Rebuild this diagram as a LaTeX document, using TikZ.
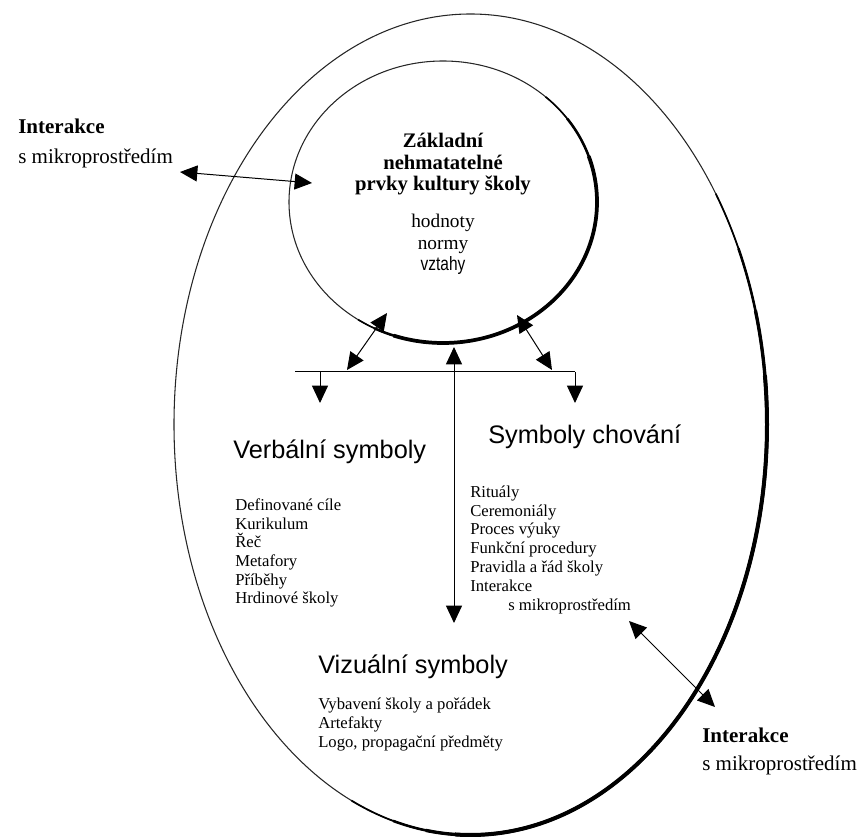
\documentclass[tikz,border=0pt]{standalone}
\usepackage{fontspec}
\setmainfont{Liberation Serif}
\setsansfont{Liberation Sans}
\newfontfamily\narrowsans[FakeStretch=0.8]{Liberation Sans}
\usepackage{tikz}
\usetikzlibrary{shapes, arrows.meta, positioning}

\begin{document}
\begin{tikzpicture}
  [
    x=0.75pt, y=-0.75pt,
    >={Triangle[length=13pt, width=12pt]},
    Ring/.style={ellipse, draw=black!85, line width=0.8pt, inner sep=0pt},
    Shade/.style={draw=black},
    Link/.style={draw, line width=0.75pt},
    Title/.style={font=\sffamily\fontsize{19}{22}\selectfont, inner sep=0pt, anchor=west},
    Items/.style={font=\fontsize{12.5}{14}\selectfont, align=left, inner sep=0pt, anchor=north west},
    Head/.style={font=\bfseries\fontsize{15.5}{16.1}\selectfont, align=center, inner sep=0pt, anchor=north},
    Side/.style={font=\fontsize{15.75}{22.5}\selectfont, align=left, inner sep=0pt, anchor=north west}
  ]
  \useasboundingbox (0,0) rectangle (858,837);
  % Rings
  \node[Ring, minimum width=444.75pt, minimum height=615.75pt] (culture) at (470.5,424.5) {};
  \node[Ring, minimum width=231pt, minimum height=211.5pt] (core) at (443,202) {};
  % heavier lower right edges
  \begin{scope}
    \clip (culture.center) -- (858,60) -- (858,837) -- (340,837) -- cycle;
    \path [Shade, line width=1.3pt] (culture.center) ellipse [x radius=296.5, y radius=410.5];
  \end{scope}
  \begin{scope}
    \clip (culture.center) -- (858,170) -- (858,837) -- (390,837) -- cycle;
    \path [Shade, line width=1.9pt] (culture.center) ellipse [x radius=296.5, y radius=410.5];
  \end{scope}
  \begin{scope}
    \clip (culture.center) -- (858,270) -- (858,837) -- (425,837) -- cycle;
    \path [Shade, line width=2.5pt] (culture.center) ellipse [x radius=296.5, y radius=410.5];
  \end{scope}
  \begin{scope}
    \clip (culture.center) -- (858,360) -- (858,837) -- (455,837) -- cycle;
    \path [Shade, line width=3pt] (culture.center) ellipse [x radius=296.5, y radius=410.5];
  \end{scope}
  \begin{scope}
    \clip (core.center) -- (640,0) -- (640,400) -- (300,400) -- cycle;
    \path [Shade, line width=1.2pt] (core.center) ellipse [x radius=154, y radius=141];
  \end{scope}
  \begin{scope}
    \clip (core.center) -- (640,70) -- (640,400) -- (335,400) -- cycle;
    \path [Shade, line width=1.9pt] (core.center) ellipse [x radius=154, y radius=141];
  \end{scope}
  \begin{scope}
    \clip (core.center) -- (640,140) -- (640,400) -- (370,400) -- cycle;
    \path [Shade, line width=2.8pt] (core.center) ellipse [x radius=154, y radius=141];
  \end{scope}
  % Nodes
  \node[Head] (coreHead) at (443,133) {Základní\\ nehmatatelné\\ prvky kultury školy};
  \node[Head, font=\fontsize{14.5}{16.1}\selectfont] (coreItems) at (443,214) {hodnoty\\ normy\\ {\narrowsans vztahy}};
  \node[Side] (intLeft) at (18,119) {\textbf{Interakce}\\ s mikroprostředím};
  \node[Side, font=\fontsize{15.75}{21}\selectfont] (intRight) at (702,728) {\textbf{Interakce}\\ s mikroprostředím};
  \node[Title] (verbal) at (233,452) {Verbální symboly};
  \node[Items] (verbalItems) at (235,498.5) {Definované cíle\\ Kurikulum\\ Řeč\\ Metafory\\ Příběhy\\ Hrdinové školy};
  \node[Title] (behave) at (488,437) {Symboly chování};
  \node[Items, font=\fontsize{12.5}{14.1}\selectfont] (behaveItems) at (470,485.5) {Rituály\\ Ceremoniály\\ Proces výuky\\ Funkční procedury\\ Pravidla a řád školy\\ Interakce\\ \hspace*{28.5pt}s mikroprostředím};
  \node[Title] (visual) at (318,667) {Vizuální symboly};
  \node[Items, font=\fontsize{12.5}{14.25}\selectfont] (visualItems) at (318,697.5) {Vybavení školy a pořádek\\ Artefakty\\ Logo, propagační předměty};
  % Ends
  \coordinate (intL) at (180,172);
  \coordinate (coreW) at (312,183);
  \coordinate (coreSW) at (387,313);
  \coordinate (barSW) at (347,370);
  \coordinate (coreSE) at (517,315);
  \coordinate (barSE) at (552,370);
  \coordinate (coreS) at (454,347);
  \coordinate (visualN) at (454,623);
  \coordinate (behaveSE) at (629,621);
  \coordinate (intR) at (715,707);
  \coordinate (barW) at (295,372);
  \coordinate (barE) at (575,372);
  \coordinate (dropL) at (320,372);
  \coordinate (tipL) at (320,403);
  \coordinate (tipR) at (575,403);
  % Lines
  \path [<->, Link] (intL) -- (coreW);
  \path [<->, Link] (coreSW) -- (barSW);
  \path [<->, Link] (coreSE) -- (barSE);
  \path [<->, Link] (coreS) -- (visualN);
  \path [<->, Link] (behaveSE) -- (intR);
  \path [Link] (barW) -- (barE);
  \path [->, Link] (dropL) -- (tipL);
  \path [->, Link] (barE) -- (tipR);
\end{tikzpicture}
\end{document}
